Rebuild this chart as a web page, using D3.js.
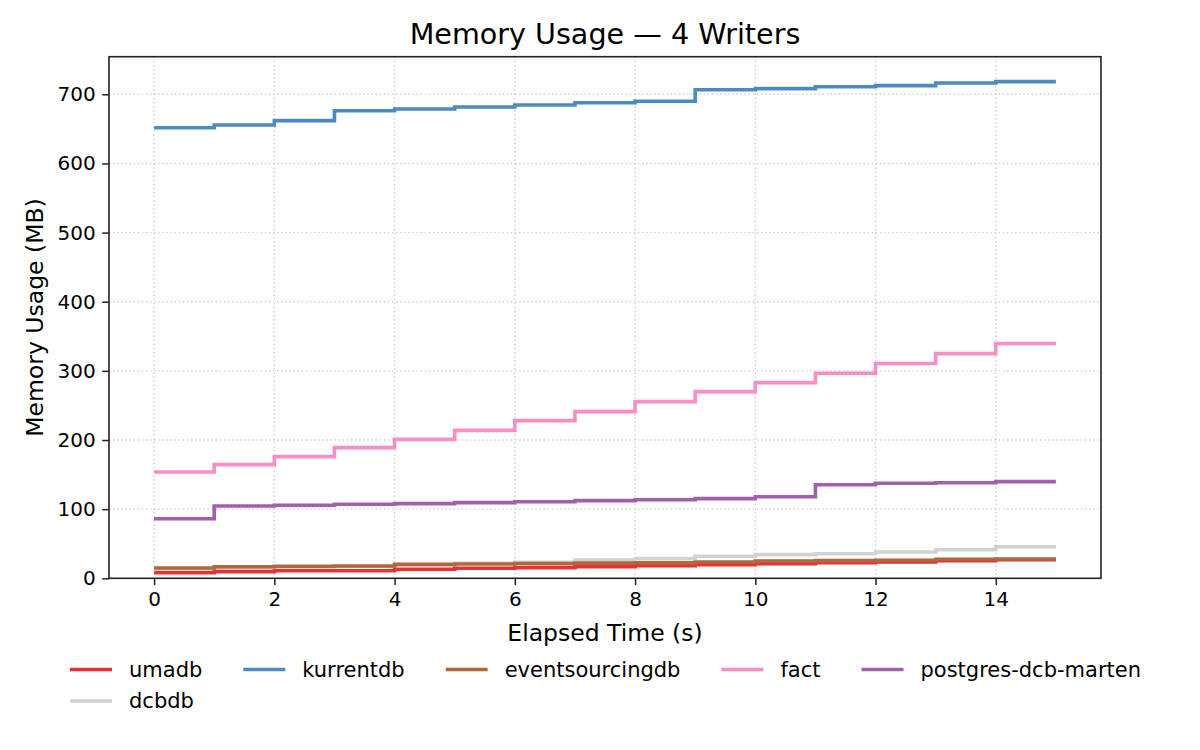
<!DOCTYPE html>
<html>
<head>
<meta charset="utf-8">
<script src="https://cdn.jsdelivr.net/npm/d3@7"></script>
<style>
  body { margin: 0; background: #fff; }
  svg { font-family: "DejaVu Sans", sans-serif; }
</style>
</head>
<body>
<div id="chart"></div>
<script>
// data (MB per second, step-after)
var times = [0, 1, 2, 3, 4, 5, 6, 7, 8, 9, 10, 11, 12, 13, 14, 15];
var umadb = [8.1, 9.6, 11.0, 11.0, 13.0, 14.5, 15.4, 16.8, 18.2, 19.7, 21.1, 22.6, 23.6, 25.5, 26.9, 26.9];
var kurrentdb = [651.7, 655.6, 661.9, 676.3, 678.8, 681.6, 684.5, 687.9, 689.9, 706.7, 708.2, 711.0, 712.5, 716.4, 718.3, 718.3];
var eventsourcingdb = [14.9, 16.8, 17.4, 17.8, 20.2, 20.7, 21.5, 22.0, 22.4, 23.6, 25.0, 25.5, 26.0, 27.5, 27.9, 27.9];
var fact = [153.8, 164.4, 176.0, 189.0, 201.0, 214.0, 228.0, 241.0, 255.6, 270.0, 283.0, 296.6, 310.6, 325.0, 339.5, 339.5];
var postgresDcbMarten = [86.2, 104.6, 105.6, 107.0, 108.0, 109.4, 110.8, 112.3, 113.7, 115.2, 118.0, 135.4, 137.4, 138.3, 139.8, 139.8];
var dcbdb = [13.5, 15.5, 16.5, 17.2, 19.5, 21.7, 23.0, 26.5, 28.4, 31.8, 34.2, 35.6, 38.0, 41.4, 45.7, 45.7];

var xTicks = [0, 2, 4, 6, 8, 10, 12, 14];
var yTicks = [0, 100, 200, 300, 400, 500, 600, 700];

var series = [
  {name: "umadb", values: umadb, color: "#e73133"},
  {name: "kurrentdb", values: kurrentdb, color: "#4b8bbf"},
  {name: "eventsourcingdb", values: eventsourcingdb, color: "#af673d"},
  {name: "fact", values: fact, color: "#f88ec5"},
  {name: "postgres-dcb-marten", values: postgresDcbMarten, color: "#a260ac"},
  {name: "dcbdb", values: dcbdb, color: "#d1d1d1"}
];
// order the lines are painted in (dcbdb sits underneath)
var drawOrder = ["dcbdb", "umadb", "kurrentdb", "eventsourcingdb", "fact", "postgres-dcb-marten"];

var width = 1200, height = 750;
var mLeft = 109, mRight = 1101, mTop = 56.7, mBottom = 578.3;

var svg = d3.select("#chart").append("svg")
    .attr("width", width)
    .attr("height", height);

var x = d3.scaleLinear().domain([-0.75, 15.75]).range([mLeft, mRight]);
var y = d3.scaleLinear().domain([0, 754.4]).range([mBottom, mTop]);

// grid
svg.append("g").selectAll("line").data(xTicks).enter().append("line")
  .attr("x1", function(d){ return x(d); }).attr("x2", function(d){ return x(d); })
  .attr("y1", mTop).attr("y2", mBottom)
  .attr("stroke", "#cfcfcf").attr("stroke-width", 1.4)
  .attr("stroke-dasharray", "1.5,2.6");
svg.append("g").selectAll("line").data(yTicks.slice(1)).enter().append("line")
  .attr("x1", mLeft).attr("x2", mRight)
  .attr("y1", function(d){ return y(d); }).attr("y2", function(d){ return y(d); })
  .attr("stroke", "#cfcfcf").attr("stroke-width", 1.4)
  .attr("stroke-dasharray", "1.5,2.6");

// lines
var line = d3.line()
  .x(function(d, i){ return x(times[i]); })
  .y(function(d){ return y(d); })
  .curve(d3.curveStepAfter);

svg.append("g").selectAll("path")
  .data(drawOrder.map(function(n){ return series.find(function(s){ return s.name === n; }); }))
  .enter().append("path")
  .attr("d", function(s){ return line(s.values); })
  .attr("fill", "none")
  .attr("stroke", function(s){ return s.color; })
  .attr("stroke-width", 3.6);

// axes
var xAxis = svg.append("g").attr("transform", "translate(0," + mBottom + ")")
  .call(d3.axisBottom(x).tickValues(xTicks).tickSize(6.8).tickPadding(6.5).tickFormat(d3.format("d")));
var yAxis = svg.append("g").attr("transform", "translate(" + mLeft + ",0)")
  .call(d3.axisLeft(y).tickValues(yTicks).tickSize(6.8).tickPadding(6.5).tickFormat(d3.format("d")));
[xAxis, yAxis].forEach(function(a){
  a.select(".domain").remove();
  a.selectAll("line").attr("stroke", "#222").attr("stroke-width", 1.5);
  a.selectAll("text").attr("font-size", "20px").attr("fill", "#000")
    .attr("font-family", "DejaVu Sans");
});

// frame
svg.append("rect")
  .attr("x", mLeft).attr("y", mTop)
  .attr("width", mRight - mLeft).attr("height", mBottom - mTop)
  .attr("fill", "none").attr("stroke", "#222").attr("stroke-width", 1.6);

// titles
svg.append("text").attr("x", (mLeft + mRight) / 2).attr("y", 44.3)
  .attr("text-anchor", "middle").attr("font-size", "28.6px")
  .text("Memory Usage \u2014 4 Writers");
svg.append("text").attr("x", (mLeft + mRight) / 2).attr("y", 641)
  .attr("text-anchor", "middle").attr("font-size", "23.5px")
  .text("Elapsed Time (s)");
svg.append("text")
  .attr("transform", "translate(43," + (mTop + mBottom) / 2 + ") rotate(-90)")
  .attr("text-anchor", "middle").attr("font-size", "23.5px")
  .text("Memory Usage (MB)");

// legend, 5 columns below the axes, columns sized from their text
var nCols = 5, legendX = 70, rowY0 = 669.5, rowStep = 31.5;
var handleLen = 42, textGap = 59, colGap = 41;
var legend = svg.append("g").selectAll("g").data(series).enter().append("g");
legend.append("line")
  .attr("x1", 0).attr("x2", handleLen).attr("y1", 0).attr("y2", 0)
  .attr("stroke", function(s){ return s.color; }).attr("stroke-width", 3.6);
legend.append("text")
  .attr("x", textGap).attr("y", 0).attr("dy", "0.35em")
  .attr("font-size", "21px")
  .text(function(s){ return s.name; });

var colW = d3.range(nCols).map(function(){ return 0; });
legend.each(function(s, i){
  var w = this.querySelector("text").getComputedTextLength();
  colW[i % nCols] = Math.max(colW[i % nCols], w);
});
var colX = [legendX];
for (var c = 1; c < nCols; c++) colX.push(colX[c - 1] + textGap + colW[c - 1] + colGap);
legend.attr("transform", function(s, i){
  return "translate(" + colX[i % nCols] + "," + (rowY0 + rowStep * Math.floor(i / nCols)) + ")";
});
</script>
</body>
</html>
